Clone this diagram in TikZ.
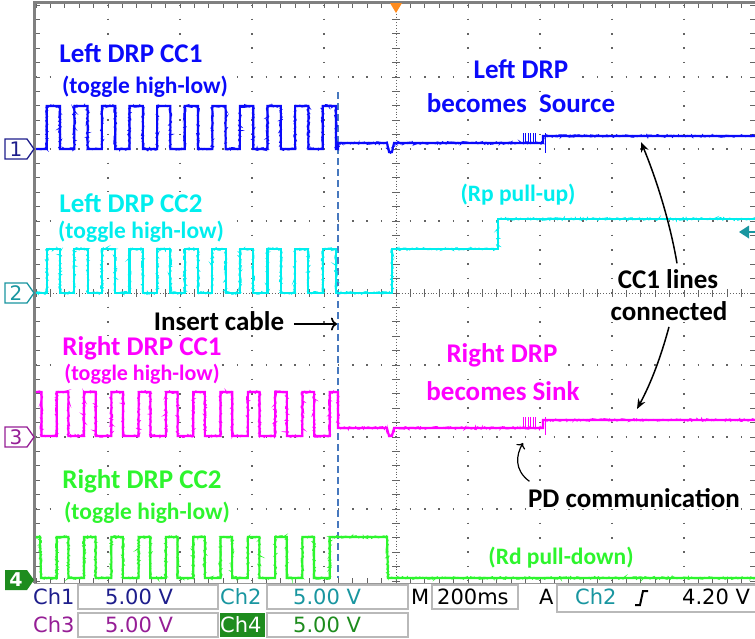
\documentclass[tikz,border=0pt]{standalone}
\usepackage{fontspec}
\setmainfont{Carlito}
\newfontfamily\scopefont{DejaVu Sans}
\usetikzlibrary{arrows.meta,decorations.pathmorphing}
\definecolor{cA}{RGB}{10,10,250}
\definecolor{cB}{RGB}{0,238,238}
\definecolor{cC}{RGB}{255,0,255}
\definecolor{cD}{RGB}{45,245,45}
\definecolor{sA}{RGB}{30,30,140}
\definecolor{sB}{RGB}{25,150,160}
\definecolor{sC}{RGB}{150,30,150}
\definecolor{sD}{RGB}{30,140,30}
\definecolor{gridc}{RGB}{100,100,100}
\definecolor{dashc}{RGB}{70,120,190}
\definecolor{trig}{RGB}{255,140,30}
\begin{document}
\begin{tikzpicture}[x=1pt,y=-1pt,
  gridline/.style={draw=gridc, line width=1.5pt, dash pattern=on 1.5pt off 12.9pt, dash phase=0.75pt},
  axisline/.style={draw=gridc, line width=0.9pt, dash pattern=on 0.9pt off 1.98pt},
  tickmark/.style={draw=gridc, line width=0.9pt},
  trace/.style={line width=2.1pt, line join=miter,
    postaction={draw, line width=1.1pt, decorate, decoration={random steps, segment length=1.3pt, amplitude=1.3pt}}},
  spike/.style={line width=1pt},
  mainlab/.style={font=\bfseries\fontsize{27}{29}\selectfont, fill=white, inner sep=1.5pt, anchor=base},
  sublab/.style={font=\bfseries\fontsize{23.5}{26}\selectfont, fill=white, inner sep=1.5pt, anchor=base},
  callout/.style={draw=black, line width=1.5pt},
  stxt/.style={font=\scopefont\fontsize{21}{23}\selectfont, inner sep=0pt},
  tagnum/.style={font=\scopefont\fontsize{20}{22}\selectfont, inner sep=0pt},
  sbox/.style={draw=gray!55, line width=1.3pt, fill=white},
  chtag/.style={line width=1.3pt, fill=white}
]
\pgfmathsetseed{11}
\fill[white] (0,0) rectangle (755,638);
\useasboundingbox (0,0) rectangle (755,638);

% ---------------- grid ----------------
\foreach \k in {1,2,3,4,6,7,8,9} \draw[gridline] ({36+72*\k},5) -- ({36+72*\k},581);
\foreach \k in {1,2,3,5,6,7} \draw[gridline] (36,{5+72*\k}) -- (756,{5+72*\k});
\draw[axisline] (396,5) -- (396,581);
\foreach \i in {0,...,40} \draw[tickmark] (392,{5+14.4*\i}) -- (400,{5+14.4*\i});
\draw[axisline] (36,293) -- (756,293);
\foreach \i in {0,...,50} \draw[tickmark] ({36+14.4*\i},289) -- ({36+14.4*\i},297);
% frame ticks
\foreach \i in {0,...,40} \draw[tickmark] (35,{5+14.4*\i}) -- (40,{5+14.4*\i});
\foreach \i in {0,...,40} \draw[tickmark] (750,{5+14.4*\i}) -- (755,{5+14.4*\i});
\foreach \i in {0,...,50} \draw[tickmark] ({36+14.4*\i},3) -- ({36+14.4*\i},8);
\foreach \i in {0,...,50} \draw[tickmark] ({36+14.4*\i},578) -- ({36+14.4*\i},583);
\draw[gray, line width=3pt] (34,583) -- (34,2) -- (756,2);
\draw[gray!80, line width=1.5pt] (34,583.5) -- (756,583.5);
% trigger marker
\fill[trig] (390,3) -- (402,3) -- (396,13) -- cycle;

% ---------------- labels ----------------
\node[mainlab, text=cA] (l1a) at (131,62) {Left DRP CC1};
\node[sublab, text=cA] (l1b) at (145,93) {(toggle high-low)};
\node[mainlab, text=cA] (r1a) at (521,78) {Left DRP};
\node[mainlab, text=cA] (r1b) at (521,112) {becomes\ \ Source};
\node[mainlab, text=cB] (l2a) at (131,212) {Left DRP CC2};
\node[sublab, text=cB] (l2b) at (141,238) {(toggle high-low)};
\node[sublab, text=cB] (r2) at (518,201) {(Rp pull-up)};
\node[mainlab, text=black] (ins) at (219,330) {Insert cable};
\node[mainlab, text=black] (cc1) at (668,288) {CC1 lines};
\node[mainlab, text=black] (conn) at (669,320) {connected};
\node[mainlab, text=cC, inner sep=0.5pt] (l3a) at (142,355) {Right DRP CC1};
\node[sublab, text=cC, inner sep=0.5pt, font=\bfseries\fontsize{22}{24}\selectfont] (l3b) at (142,380) {(toggle high-low)};
\node[mainlab, text=cC] (r3a) at (502,362) {Right DRP};
\node[mainlab, text=cC] (r3b) at (503,400) {becomes Sink};
\node[mainlab, text=cD] (l4a) at (142,488) {Right DRP CC2};
\node[sublab, text=cD] (l4b) at (147,519) {(toggle high-low)};
\node[mainlab, text=black] (pd) at (634,507) {PD communication};
\node[sublab, text=cD] (r4) at (561,564) {(Rd pull-down)};

% ---------------- cable insertion line ----------------
\draw[dashc, line width=1.6pt, dash pattern=on 7pt off 4pt] (338,92) -- (338,578);

% ---------------- traces ----------------
% Ch1
\draw[trace, cA] (36,149)
  \foreach \i in {0,...,10} { -- ({46.7+27.6*\i},149) -- ({46.7+27.6*\i},106) -- ({60+27.6*\i},106) -- ({60+27.6*\i},149) }
  -- (338,149) -- (338,143) -- (387,143) -- (389,152) -- (392,152) -- (394,143)
  -- (543,143) -- (543,136) -- (755,136);
\foreach \x in {523,525.5,528,530.5,533,535.5} \draw[spike, cA] (\x,143) -- (\x,133);
\draw[spike, cA] (545,133) -- (545,153);
% Ch2
\draw[trace, cB] (36,293)
  \foreach \i in {0,...,10} { -- ({46.7+27.6*\i},293) -- ({46.7+27.6*\i},249) -- ({60+27.6*\i},249) -- ({60+27.6*\i},293) }
  -- (392,293) -- (392,249) -- (498,249) -- (498,219) -- (755,219);
% Ch2 trigger level marker
\fill[sB] (739,232) -- (749,225.5) -- (749,238.5) -- cycle;
\draw[sB, line width=2.4pt] (747,232) -- (755,232);
% Ch3
\draw[trace, cC] (36,392) -- (41.5,392) -- (41.5,436)
  \foreach \i in {0,...,9} { -- ({56.7+27.3*\i},436) -- ({56.7+27.3*\i},392) -- ({68.4+27.3*\i},392) -- ({68.4+27.3*\i},436) }
  -- (329.7,436) -- (329.7,392) -- (338,392) -- (338,428) -- (387,428) -- (389,436) -- (392,436) -- (394,428)
  -- (543,428) -- (543,420) -- (755,420);
\foreach \x in {523,525.5,528,530.5,533,535.5} \draw[spike, cC] (\x,428) -- (\x,417);
\draw[spike, cC] (545,417) -- (545,435);
% Ch4
\draw[trace, cD] (36,537) -- (40,537) -- (41,578)
  \foreach \i in {0,...,9} { -- ({56.7+27.3*\i},578) -- ({56.7+27.3*\i},537) -- ({68.3+27.3*\i},537) -- ({68.3+27.3*\i},578) }
  -- (329.7,578) -- (329.7,537) -- (387,537) -- (388,578) -- (755,578);

% ---------------- channel tags ----------------
\draw[chtag, draw=sA] (5,139) -- (27,139) -- (34,149) -- (27,159) -- (5,159) -- cycle;
\node[tagnum, text=sA] (t1) at (16,149) {1};
\draw[chtag, draw=sB] (5,283) -- (27,283) -- (34,293) -- (27,303) -- (5,303) -- cycle;
\node[tagnum, text=sB] (t2) at (16,293) {2};
\draw[chtag, draw=sC] (5,427) -- (27,427) -- (34,437) -- (27,447) -- (5,447) -- cycle;
\node[tagnum, text=sC] (t3) at (16,437) {3};
\fill[sD] (5,570) -- (27,570) -- (34,580) -- (27,590) -- (5,590) -- cycle;
\node[tagnum, text=white, font=\scopefont\bfseries\fontsize{19}{21}\selectfont] (t4) at (16,580) {4};

% ---------------- callout arrows ----------------
\coordinate (tipA) at (641,142);
\coordinate (tipB) at (637,409);
\coordinate (tipC) at (523,443);
\coordinate (tipD) at (337,324);
\draw[callout, -{Stealth[length=10pt,width=8pt]}] ([xshift=9pt,yshift=4pt]cc1.north) .. controls (670,222) and (656,178) .. (tipA);
\draw[callout, -{Stealth[length=10pt,width=8pt]}] ([yshift=-5pt]conn.south) .. controls (660,360) and (650,385) .. (tipB);
\draw[callout, line width=1.2pt, -{To[length=5pt,width=10pt]}] ([xshift=3pt,yshift=5pt]pd.north west) .. controls (514,470) and (516,455) .. (tipC);
\draw[callout, line width=1.7pt, -{To[length=6pt,width=13pt]}] ([xshift=8pt,yshift=6pt]ins.base east) -- (tipD);

% ---------------- status bar ----------------
\draw[sbox] (78,585) rectangle (218,609);
\draw[sbox] (267,585) rectangle (408,609);
\draw[sbox] (78,613) rectangle (218,637);
\draw[sbox] (267,613) rectangle (408,637);
\draw[sbox] (432,585) rectangle (518,609);
\draw[sbox] (557,585) rectangle (757,612);
\fill[sD] (220,613) rectangle (265,637);
\node[stxt, text=sA, anchor=west] (s1) at (33,597) {Ch1};
\node[stxt, text=sA, anchor=west] (s1v) at (105,597) {5.00 V};
\node[stxt, text=sB, anchor=west] (s2) at (220,597) {Ch2};
\node[stxt, text=sB, anchor=west] (s2v) at (293,597) {5.00 V};
\node[stxt, text=sC, anchor=west] (s3) at (33,625) {Ch3};
\node[stxt, text=sC, anchor=west] (s3v) at (105,625) {5.00 V};
\node[stxt, text=white, anchor=west] (s4) at (220,625) {Ch4};
\node[stxt, text=sD, anchor=west] (s4v) at (293,625) {5.00 V};
\node[stxt, text=black, anchor=west] (sm) at (411,597) {M};
\node[stxt, text=black, anchor=west] (smv) at (437,597) {200ms};
\node[stxt, text=black, anchor=west] (sa) at (539,597) {A};
\node[stxt, text=sB, anchor=west] (sa2) at (575,597) {Ch2};
\draw[black, line width=2pt] (635,605) -- (640,605) -- (643,591) -- (648,591);
\node[stxt, text=black, anchor=west] (sav) at (682,597) {4.20 V};
\end{tikzpicture}
\end{document}
